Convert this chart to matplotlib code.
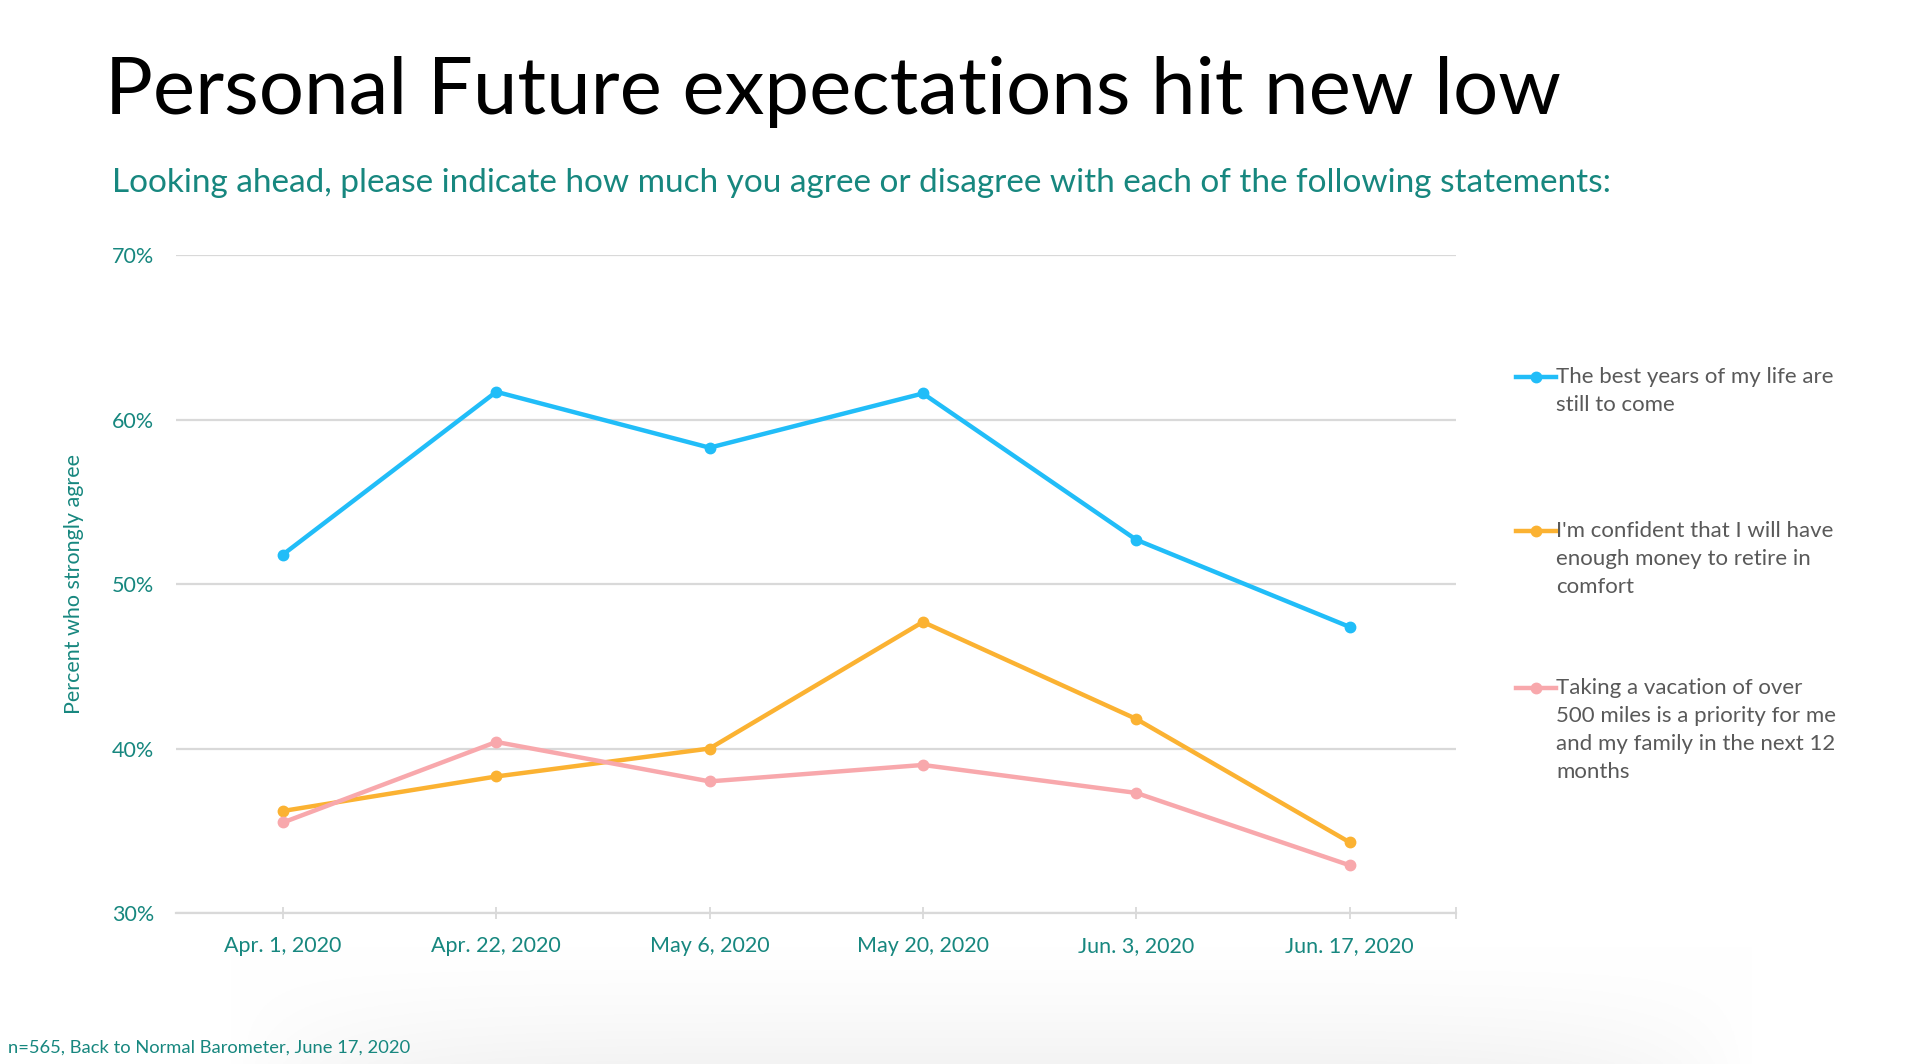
import numpy as np
import matplotlib.pyplot as plt
from matplotlib.lines import Line2D
from matplotlib.ticker import FuncFormatter, FixedLocator

# data
dates = ["Apr. 1, 2020", "Apr. 22, 2020", "May 6, 2020",
         "May 20, 2020", "Jun. 3, 2020", "Jun. 17, 2020"]
best_years = [51.8, 61.7, 58.3, 61.6, 52.7, 47.4]
retire_comfort = [36.2, 38.3, 40.0, 47.7, 41.8, 34.3]
vacation = [35.5, 40.4, 38.0, 39.0, 37.3, 32.9]

series_labels = [
    "The best years of my life are\nstill to come",
    "I'm confident that I will have\nenough money to retire in\ncomfort",
    "Taking a vacation of over\n500 miles is a priority for me\nand my family in the next 12\nmonths",
]
series_colors = ["#21bdf8", "#fbb232", "#f8a8ac"]

TEAL = "#17877f"
GRID = "#d9d9d9"
plt.rcParams['font.family'] = ['Lato', 'DejaVu Sans']

fig = plt.figure(figsize=(19.06, 10.64), dpi=100)
fig.patch.set_facecolor("white")

# faint shadow at the bottom of the slide
shade = fig.add_axes([0.12, 0.0, 0.8, 0.11], zorder=-1)
xs = np.linspace(-1, 1, 400)
ys = np.linspace(0, 1, 60)
bump = np.clip((1 - np.abs(xs) ** 6), 0, 1)
ramp = ys[:, None] ** 1.5
g = 1 - 0.045 * ramp * bump[None, :]
shade.imshow(np.dstack([g, g, g]), aspect="auto", origin="upper",
             extent=[0, 1, 0, 1])
shade.axis("off")

# title block
fig.text(0.055, 0.893, "Personal Future expectations hit new low",
         fontsize=57.5, color="black", va="baseline")
fig.text(0.059, 0.82, "Looking ahead, please indicate how much you agree or disagree with each of the following statements:",
         fontsize=24, color=TEAL, va="baseline")

ax = fig.add_axes([0.0925, 0.142, 0.6715, 0.618])
x = range(len(dates))
for vals, col in zip([best_years, retire_comfort, vacation], series_colors):
    ax.plot(x, vals, color=col, lw=3.2, marker="o", markersize=7.5, zorder=3)

ax.set_xlim(-0.5, 5.5)
ax.set_ylim(30, 70)
ax.set_yticks([30, 40, 50, 60, 70])
ax.yaxis.set_major_formatter(FuncFormatter(lambda v, p: f"{v:.0f}%"))
ax.set_xticks(list(x))
ax.set_xticklabels(dates)
ax.xaxis.set_minor_locator(FixedLocator([5.5]))

ax.grid(axis="y", color=GRID, lw=1.6, zorder=0)
for s in ["top", "right", "left"]:
    ax.spines[s].set_visible(False)
ax.spines["bottom"].set_color(GRID)
ax.spines["bottom"].set_linewidth(1.6)

ax.tick_params(axis="y", length=0, pad=16, labelsize=15.5, labelcolor=TEAL)
ax.tick_params(axis="x", which="both", direction="inout", length=9, width=1.3,
               color=GRID, pad=12, labelsize=15.5, labelcolor=TEAL)
ax.set_ylabel("Percent who strongly agree", fontsize=15.5, color=TEAL, labelpad=20)

# legend drawn at the right, one entry per series
entry_y = [0.646, 0.501, 0.353]
for lab, col, yy in zip(series_labels, series_colors, entry_y):
    fig.add_artist(Line2D([0.7955, 0.8165], [yy, yy], color=col, lw=3.2,
                          transform=fig.transFigure))
    fig.add_artist(Line2D([0.806], [yy], color=col, marker="o", markersize=7.5,
                          transform=fig.transFigure))
    fig.text(0.8165, yy + 0.0095, lab, fontsize=16, color="#595959",
             va="top", linespacing=1.5)

fig.text(0.004, 0.011, "n=565, Back to Normal Barometer, June 17, 2020",
         fontsize=13.2, color=TEAL)

fig.savefig("out.png", dpi=100)
